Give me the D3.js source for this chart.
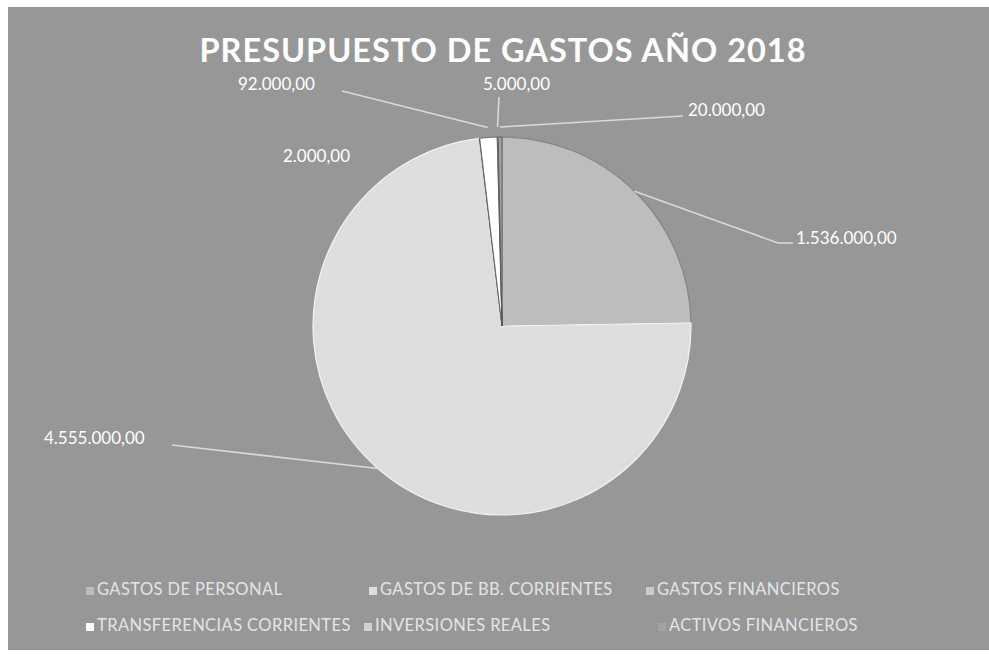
<!DOCTYPE html>
<html><head><meta charset="utf-8">
<script src="https://cdn.jsdelivr.net/npm/d3@7"></script>
<style>
html,body{margin:0;padding:0;background:#fff;}
svg{display:block;}
</style></head>
<body>
<svg id="chart" width="989" height="654"></svg>
<script>
// ---- data ----
const titleText = "PRESUPUESTO DE GASTOS AÑO 2018";
const categories = ["GASTOS DE PERSONAL","GASTOS DE BB. CORRIENTES","GASTOS FINANCIEROS","TRANSFERENCIAS CORRIENTES","INVERSIONES REALES","ACTIVOS FINANCIEROS"];
const values = [1536000, 4555000, 2000, 92000, 5000, 20000];
const valueLabels = ["1.536.000,00","4.555.000,00","2.000,00","92.000,00","5.000,00","20.000,00"];

// ---- layout / style ----
const W = 989, H = 654;
const colors = ["#bdbdbd","#dedede","#cacaca","#ffffff","#d2d2d2","#a3a3a3"];
const cx = 502, cy = 326, R = 189;
// label anchors (text start x, center y) and leader bend points
const labelLayout = [
  {x:796, y:240, bend:[[778,243],[793,243]], edge:R},
  {x:44,  y:440, bend:[[172,445]], edge:R},
  {x:283, y:158, bend:null},
  {x:238, y:86,  bend:[[342,91]], edge:R+10},
  {x:483, y:86,  bend:[[499,97]], edge:R+10},
  {x:688, y:112, bend:[[683,116]], edge:R+10}
];
const legendPos = [[90,591],[373,591],[650,591],[90,627],[368,627],[662,627]];

const svg = d3.select("#chart");
svg.append("rect").attr("x",0).attr("y",0).attr("width",W).attr("height",H).attr("fill","#ffffff");
svg.append("rect").attr("x",8).attr("y",7).attr("width",W-8).attr("height",643).attr("fill","#979797");

svg.append("text")
  .attr("x", 503).attr("y", 62)
  .attr("text-anchor","middle")
  .attr("font-family","Lato, 'Open Sans', sans-serif")
  .attr("font-weight","bold")
  .attr("font-size",32.5)
  .attr("letter-spacing","1px")
  .attr("fill","#ffffff")
  .text(titleText);

const pie = d3.pie().sort(null).value(d=>d).startAngle(0).endAngle(2*Math.PI);
const arcs = pie(values);
const arc = d3.arc().innerRadius(0).outerRadius(R);

const g = svg.append("g").attr("transform",`translate(${cx},${cy})`);
g.selectAll("path.slice").data(arcs).enter().append("path")
  .attr("class","slice")
  .attr("d", arc)
  .attr("fill",(d,i)=>colors[i])
  .attr("stroke",(d,i)=> (i===0 ? "#858585" : (d.endAngle-d.startAngle) < 0.1 ? "#555" : "#f2f2f2"))
  .attr("stroke-width",(d,i)=> (d.endAngle-d.startAngle) < 0.1 ? 0.8 : 1.2);

// leader lines
arcs.forEach((d,i)=>{
  const L = labelLayout[i];
  if(!L.bend) return;
  const a = (d.startAngle+d.endAngle)/2;
  const r = L.edge;
  const ex = cx + r*Math.sin(a), ey = cy - r*Math.cos(a);
  const pts = [[ex,ey]].concat(L.bend);
  svg.append("path")
    .attr("d", d3.line()(pts))
    .attr("fill","none")
    .attr("stroke","#d9d9d9")
    .attr("stroke-width",1.6);
});

// value labels
svg.selectAll("text.vl").data(arcs).enter().append("text")
  .attr("class","vl")
  .attr("x",(d,i)=>labelLayout[i].x)
  .attr("y",(d,i)=>labelLayout[i].y)
  .attr("dominant-baseline","middle")
  .attr("font-family","Lato, 'Open Sans', sans-serif")
  .attr("font-size",17)
  .attr("fill","#ffffff")
  .text((d,i)=>valueLabels[i]);

// legend
const lg = svg.selectAll("g.leg").data(categories).enter().append("g")
  .attr("class","leg")
  .attr("transform",(d,i)=>`translate(${legendPos[i][0]},${legendPos[i][1]})`);
lg.append("rect").attr("x",-4).attr("y",-4).attr("width",8).attr("height",8)
  .attr("fill",(d,i)=>colors[i]);
lg.append("text").attr("x",7).attr("y",0)
  .attr("dominant-baseline","middle")
  .attr("font-family","Lato, 'Open Sans', sans-serif")
  .attr("font-size",16.5)
  .attr("letter-spacing","0.4px")
  .attr("fill","#e4e4e4")
  .text(d=>d);
</script>
</body></html>
